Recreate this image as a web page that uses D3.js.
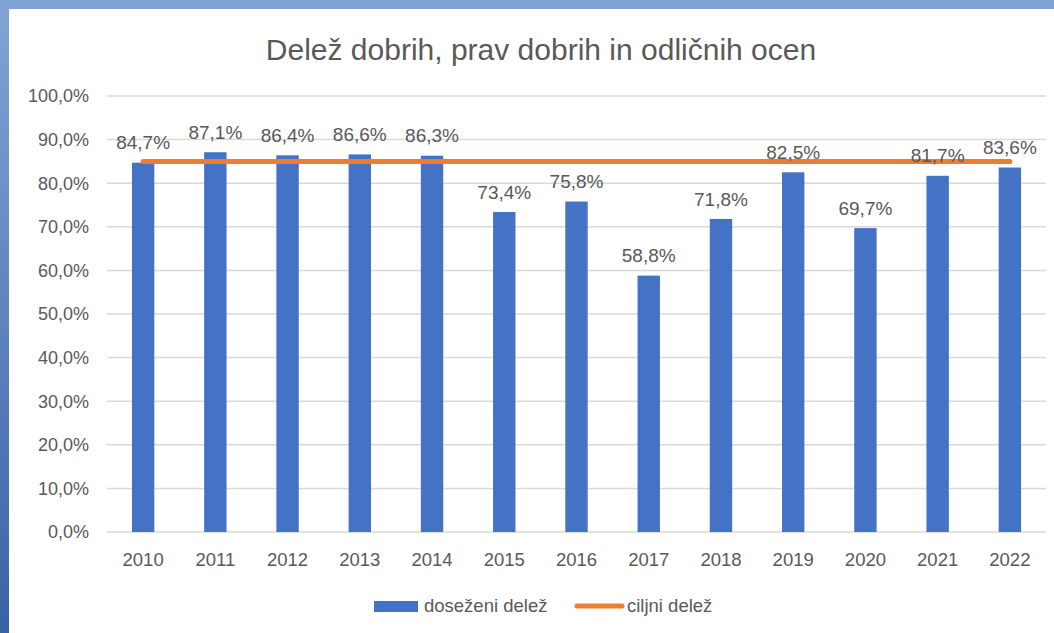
<!DOCTYPE html>
<html>
<head>
<meta charset="utf-8">
<script src="https://cdn.jsdelivr.net/npm/d3@7"></script>
<style>
  body { margin: 0; }
  text { font-family: "Liberation Sans", Arial, sans-serif; fill: #595959; }
</style>
</head>
<body>
<script>
const width = 1054;
const height = 633;

const years = ['2010','2011','2012','2013','2014','2015','2016','2017','2018','2019','2020','2021','2022'];
const achieved = [84.7, 87.1, 86.4, 86.6, 86.3, 73.4, 75.8, 58.8, 71.8, 82.5, 69.7, 81.7, 83.6];
const target = [85, 85, 85, 85, 85, 85, 85, 85, 85, 85, 85, 85, 85];
const yTicks = [0, 10, 20, 30, 40, 50, 60, 70, 80, 90, 100];

const fmt = v => d3.format(".1f")(v).replace(".", ",") + "%";

const svg = d3.select("body")
    .append("svg")
    .attr("width", width)
    .attr("height", height);

// frame
const grad = svg.append("defs").append("linearGradient")
    .attr("id", "frame")
    .attr("x1", 0).attr("y1", 0).attr("x2", 0).attr("y2", 1);
grad.append("stop").attr("offset", "0%").attr("stop-color", "#82a4d6");
grad.append("stop").attr("offset", "100%").attr("stop-color", "#3a62a6");

svg.append("rect").attr("width", width).attr("height", height).style("fill", "url(#frame)");
svg.append("rect").attr("width", width).attr("height", 9).style("fill", "#7fa2d5");
svg.append("rect").attr("x", 9).attr("y", 9).attr("width", width - 9).attr("height", height - 9).style("fill", "#fff");

const x = d3.scaleBand()
    .domain(years)
    .range([107, 1046])
    .paddingInner(0.69)
    .paddingOuter(0.345);

const y = d3.scaleLinear()
    .domain([0, 100])
    .range([532, 96]);

// gridlines
svg.append("g")
    .selectAll("line")
    .data(yTicks)
    .enter()
    .append("line")
    .attr("x1", 107)
    .attr("x2", 1046)
    .attr("y1", d => y(d))
    .attr("y2", d => y(d))
    .style("stroke", "#d9d9d9")
    .style("stroke-width", 1.5);

// y labels
svg.append("g")
    .selectAll("text")
    .data(yTicks)
    .enter()
    .append("text")
    .attr("x", 89)
    .attr("y", d => y(d))
    .attr("dy", "0.35em")
    .attr("text-anchor", "end")
    .style("font-size", "18px")
    .text(fmt);

// x labels
svg.append("g")
    .selectAll("text")
    .data(years)
    .enter()
    .append("text")
    .attr("x", d => x(d) + x.bandwidth() / 2)
    .attr("y", 560)
    .attr("dy", "0.35em")
    .attr("text-anchor", "middle")
    .style("font-size", "18.5px")
    .text(d => d);

// bars
svg.append("g")
    .selectAll("rect")
    .data(achieved)
    .enter()
    .append("rect")
    .attr("x", (d, i) => x(years[i]))
    .attr("y", d => y(d))
    .attr("width", x.bandwidth())
    .attr("height", d => y(0) - y(d))
    .style("fill", "#4472c4");

// target line
const line = d3.line()
    .x((d, i) => x(years[i]) + x.bandwidth() / 2)
    .y(d => y(d));

svg.append("path")
    .datum(target)
    .attr("d", line)
    .style("fill", "none")
    .style("stroke", "#ed7d31")
    .style("stroke-width", 5)
    .style("stroke-linecap", "round");

// data labels
svg.append("g")
    .selectAll("text")
    .data(achieved)
    .enter()
    .append("text")
    .attr("x", (d, i) => x(years[i]) + x.bandwidth() / 2)
    .attr("y", d => y(d) - 20)
    .attr("dy", "0.35em")
    .attr("text-anchor", "middle")
    .style("font-size", "19px")
    .text(fmt);

// title
svg.append("text")
    .attr("x", 541)
    .attr("y", 49)
    .attr("dy", "0.35em")
    .attr("text-anchor", "middle")
    .style("font-size", "30px")
    .text("Delež dobrih, prav dobrih in odličnih ocen");

// legend
const legend = svg.append("g");
legend.append("rect")
    .attr("x", 374).attr("y", 601)
    .attr("width", 44).attr("height", 11)
    .style("fill", "#4472c4");
legend.append("text")
    .attr("x", 424).attr("y", 606)
    .attr("dy", "0.35em")
    .style("font-size", "18.5px")
    .text("doseženi delež");
legend.append("line")
    .attr("x1", 577).attr("x2", 622)
    .attr("y1", 606).attr("y2", 606)
    .style("stroke", "#ed7d31")
    .style("stroke-width", 5)
    .style("stroke-linecap", "round");
legend.append("text")
    .attr("x", 627).attr("y", 606)
    .attr("dy", "0.35em")
    .style("font-size", "18.5px")
    .text("ciljni delež");
</script>
</body>
</html>
